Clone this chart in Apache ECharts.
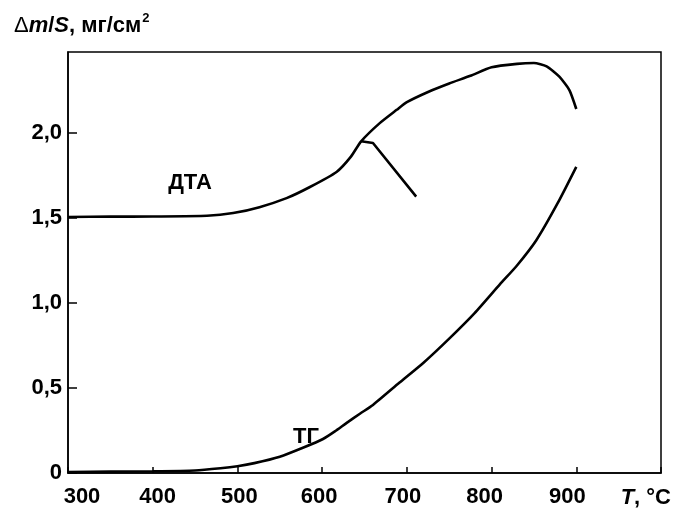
<!DOCTYPE html>
<html>
<head>
<meta charset="utf-8">
<script src="https://cdn.jsdelivr.net/npm/echarts@6/dist/echarts.min.js"></script>
<style>
  html, body { margin: 0; padding: 0; background: #fff; }
  #chart { width: 686px; height: 515px; }
</style>
</head>
<body>
<div id="chart"></div>
<script>
// Temperature (°C) and specific mass change Δm/S (mg/cm²)
const dtaT = [300, 350, 400, 464, 495, 526, 558, 585, 617, 634, 646, 668, 688, 700, 725, 750, 775, 800, 830, 850, 865, 880, 892, 900];
const dtaV = [1.505, 1.507, 1.508, 1.512, 1.528, 1.563, 1.616, 1.68, 1.77, 1.86, 1.95, 2.057, 2.135, 2.18, 2.24, 2.29, 2.335, 2.385, 2.405, 2.41, 2.39, 2.33, 2.25, 2.14];

// Side branch of the DTA trace leaving the main curve
const branchT = [646, 660, 711];
const branchV = [1.95, 1.94, 1.625];

const tgT = [300, 350, 400, 450, 480, 500, 520, 550, 578, 601, 615, 629, 645, 660, 691, 720, 750, 780, 810, 830, 853, 878, 900];
const tgV = [0.005, 0.008, 0.01, 0.015, 0.028, 0.04, 0.058, 0.096, 0.15, 0.2, 0.245, 0.295, 0.35, 0.4, 0.53, 0.65, 0.79, 0.94, 1.11, 1.22, 1.37, 1.586, 1.8];

const xTicks = [300, 400, 500, 600, 700, 800, 900];
const yTicks = [0, 0.5, 1.0, 1.5, 2.0];

// Small horizontal nudges of the x tick labels (px, + = right)
const xLabelShift = { 300: 14, 400: 5, 500: 2, 600: -3, 700: -4, 800: -7, 900: -9 };

const FONT = "'Liberation Sans', Arial, sans-serif";
const FS = 22;
const zip = (a, b) => a.map((v, i) => [v, b[i]]);

const chart = echarts.init(document.getElementById('chart'), null, { renderer: 'canvas' });

const lineStyle = { color: '#000', width: 2.6 };

// rich styles for shifted tick labels
const xRich = {};
xTicks.forEach(t => {
  const s = xLabelShift[t] || 0;
  xRich['t' + t] = {
    color: '#000', fontFamily: FONT, fontSize: FS, fontWeight: 'bold',
    padding: s >= 0 ? [0, 0, 0, 2 * s] : [0, -2 * s, 0, 0]
  };
});

chart.setOption({
  animation: false,
  backgroundColor: '#fff',
  grid: { left: 68, right: 25, top: 52, bottom: 42, show: true, borderColor: '#000', borderWidth: 1.5, backgroundColor: 'transparent' },
  xAxis: {
    type: 'value', min: 300, max: 1000, interval: 100,
    axisLine: { lineStyle: { color: '#000', width: 1.5 } },
    axisTick: { inside: true, length: 6, lineStyle: { color: '#000', width: 1.5 } },
    splitLine: { show: false },
    axisLabel: {
      color: '#000', fontFamily: FONT, fontSize: FS, fontWeight: 'bold', margin: 13,
      rich: xRich,
      formatter: v => (xTicks.includes(v) ? '{t' + v + '|' + v + '}' : '')
    }
  },
  yAxis: {
    type: 'value', min: 0, max: 2.475, interval: 0.5,
    axisLine: { lineStyle: { color: '#000', width: 1.5 } },
    axisTick: { inside: true, length: 9, lineStyle: { color: '#000', width: 1.5 } },
    splitLine: { show: false },
    axisLabel: {
      color: '#000', fontFamily: FONT, fontSize: FS, fontWeight: 'bold', margin: 6, showMaxLabel: false,
      formatter: v => {
        const t = yTicks.find(k => Math.abs(k - v) < 1e-9);
        if (t === undefined) return '';
        return t === 0 ? '0' : t.toFixed(1).replace('.', ',');
      }
    }
  },
  series: [
    { name: 'ДТА', type: 'line', data: zip(dtaT, dtaV), showSymbol: false, smooth: 0.2, lineStyle, z: 3 },
    { name: 'ДТА-ветвь', type: 'line', data: zip(branchT, branchV), showSymbol: false, lineStyle, z: 3 },
    { name: 'ТГ', type: 'line', data: zip(tgT, tgV), showSymbol: false, smooth: 0.2, lineStyle, z: 3 }
  ]
});

// Curve captions and axis titles, anchored in data coordinates where relevant
const dtaPos = chart.convertToPixel({ gridIndex: 0 }, [444, 1.706]);
const tgPos = chart.convertToPixel({ gridIndex: 0 }, [581, 0.21]);
const xEnd = chart.convertToPixel({ gridIndex: 0 }, [1000, 0]);

const baseText = { fill: '#000', fontFamily: FONT, fontSize: FS, fontWeight: 'bold' };

chart.setOption({
  graphic: [
    { type: 'text', x: dtaPos[0], y: dtaPos[1], style: Object.assign({ text: 'ДТА', align: 'center', verticalAlign: 'middle' }, baseText) },
    { type: 'text', x: tgPos[0], y: tgPos[1], style: Object.assign({ text: 'ТГ', align: 'center', verticalAlign: 'middle' }, baseText) },
    {
      type: 'text', x: xEnd[0] + 10, y: xEnd[1] + 25,
      style: {
        text: '{i|T}{n|, °C}', align: 'right', verticalAlign: 'middle',
        rich: {
          i: Object.assign({ fontStyle: 'italic' }, baseText),
          n: Object.assign({}, baseText)
        }
      }
    },
    {
      type: 'text', x: 14, y: 26,
      style: {
        text: '{d|Δ}{i|m}{n|/}{i|S}{n|, мг/см}{s|2}', align: 'left', verticalAlign: 'middle',
        rich: {
          d: { fill: '#000', fontFamily: FONT, fontSize: FS },
          i: Object.assign({ fontStyle: 'italic' }, baseText),
          n: Object.assign({}, baseText),
          s: { fill: '#000', fontFamily: FONT, fontSize: 13, fontWeight: 'bold', padding: [0, 0, 15, 1] }
        }
      }
    }
  ]
});
</script>
</body>
</html>
